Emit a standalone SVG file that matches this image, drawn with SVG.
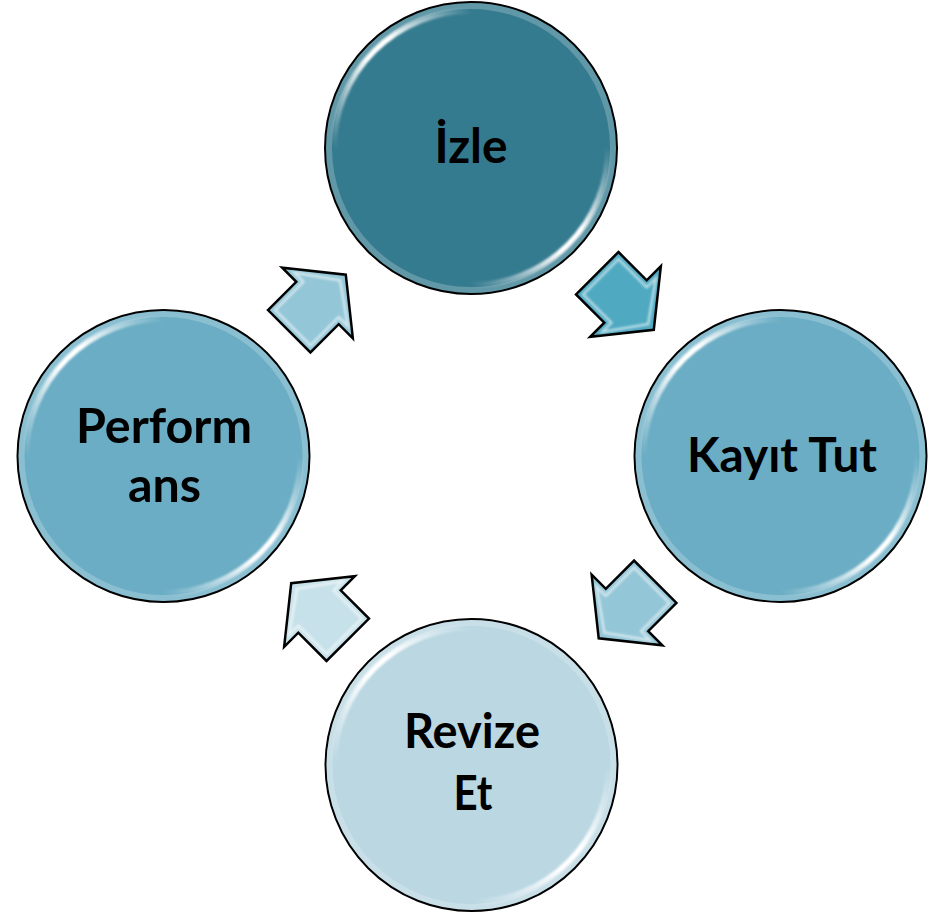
<svg xmlns="http://www.w3.org/2000/svg" width="932" height="912" viewBox="0 0 932 912">
<defs>
<linearGradient id="hl" x1="0" y1="1" x2="1" y2="0">
<stop offset="0" stop-color="#fff" stop-opacity="0"/>
<stop offset="0.45" stop-color="#fff" stop-opacity="1"/>
<stop offset="0.6" stop-color="#fff" stop-opacity="1"/>
<stop offset="1" stop-color="#fff" stop-opacity="0"/>
</linearGradient>
<filter id="blur" x="-30%" y="-30%" width="160%" height="160%"><feGaussianBlur stdDeviation="1.1"/></filter>
<path id="arrowShape" d="M-40,-30 L0,-30 L0,-50 L40,0 L0,50 L0,30 L-40,30 Z"/>
<path id="arrowBevel" d="M-35,-25 L5,-25 L5,-38 L32,0 L5,38 L5,25 L-35,25 Z"/>
</defs>
<style>
.node-circle{stroke:#000;stroke-width:2}
.rim{fill:none;stroke:#fff;stroke-opacity:0.22;stroke-width:6}
.hl{fill:none;stroke:url(#hl);stroke-width:5.5;filter:url(#blur)}
.label{font-family:Lato,"Open Sans","Liberation Sans",sans-serif;font-weight:700;font-size:48px;fill:#000;text-anchor:middle}
.arrow{stroke:#000;stroke-width:2.5;stroke-linejoin:miter}
.bevel{fill:none;stroke:#fff;stroke-opacity:0.6;stroke-width:2.5;filter:url(#blur)}
</style>

<g id="connectors">
  <g id="arrow-izle-kayit" transform="translate(625.5,301.5) rotate(45)">
    <use href="#arrowShape" class="arrow" fill="#4EA9C1"/>
    <use href="#arrowBevel" class="bevel"/>
  </g>
  <g id="arrow-kayit-revize" transform="translate(627,610) rotate(135)">
    <use href="#arrowShape" class="arrow" fill="#93C6D7"/>
    <use href="#arrowBevel" class="bevel"/>
  </g>
  <g id="arrow-revize-performans" transform="translate(319.5,611.5) rotate(225)">
    <use href="#arrowShape" class="arrow" fill="#C6E1E9"/>
    <use href="#arrowBevel" class="bevel"/>
  </g>
  <g id="arrow-performans-izle" transform="translate(317.5,303) rotate(-45)">
    <use href="#arrowShape" class="arrow" fill="#93C6D7"/>
    <use href="#arrowBevel" class="bevel"/>
  </g>
</g>

<g id="node-izle" transform="translate(471,148)">
  <circle r="146" fill="#357B8F" class="node-circle"/>
  <circle r="142" class="rim"/>
  <path class="hl" d="M-137,0 A137,137 0 0 1 0,-137"/>
  <path class="hl" d="M137,0 A137,137 0 0 1 0,137"/>
  <text class="label" x="0" y="15" textLength="73" lengthAdjust="spacingAndGlyphs">İzle</text>
</g>

<g id="node-kayit" transform="translate(780.5,456)">
  <circle r="146" fill="#6AADC4" class="node-circle"/>
  <circle r="142" class="rim"/>
  <path class="hl" d="M-137,0 A137,137 0 0 1 0,-137"/>
  <path class="hl" d="M137,0 A137,137 0 0 1 0,137"/>
  <text class="label" x="1.5" y="16" textLength="190" lengthAdjust="spacingAndGlyphs">Kayıt Tut</text>
</g>

<g id="node-revize" transform="translate(471.5,765)">
  <circle r="146" fill="#BAD7E2" class="node-circle"/>
  <circle r="142" class="rim"/>
  <path class="hl" d="M-137,0 A137,137 0 0 1 0,-137"/>
  <path class="hl" d="M137,0 A137,137 0 0 1 0,137"/>
  <text class="label" x="0.5" y="-17" textLength="136" lengthAdjust="spacingAndGlyphs">Revize</text>
  <text class="label" x="1.5" y="45" textLength="39" lengthAdjust="spacingAndGlyphs">Et</text>
</g>

<g id="node-performans" transform="translate(163.5,456)">
  <circle r="146" fill="#6AADC4" class="node-circle"/>
  <circle r="142" class="rim"/>
  <path class="hl" d="M-137,0 A137,137 0 0 1 0,-137"/>
  <path class="hl" d="M137,0 A137,137 0 0 1 0,137"/>
  <text class="label" x="0.5" y="-13" textLength="176" lengthAdjust="spacingAndGlyphs">Perform</text>
  <text class="label" x="1" y="46" textLength="73" lengthAdjust="spacingAndGlyphs">ans</text>
</g>
</svg>
